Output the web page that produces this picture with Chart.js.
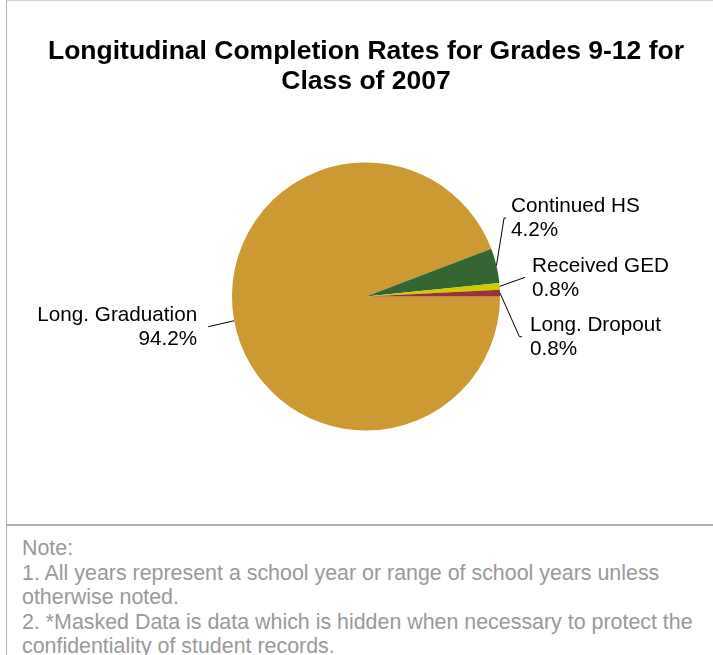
<!DOCTYPE html>
<html>
<head>
<meta charset="utf-8">
<script src="https://cdn.jsdelivr.net/npm/chart.js@4.4.0/dist/chart.umd.min.js"></script>
<style>
  html, body { margin: 0; padding: 0; background: #fff; }
  #wrap { position: absolute; left: 6px; top: 0; width: 707px; height: 655px;
          border-left: 1px solid #b4b4b4; border-top: 1px solid #d0d0d0; box-sizing: border-box; overflow: hidden; }
  #c { position: absolute; left: 6px; top: 0; }
  #sep { position: absolute; left: 0; top: 523px; width: 706px; height: 2px; background: #b0b0b0; }
  #notes { position: absolute; left: 15px; top: 535px; font-family: "Liberation Sans", Arial, sans-serif;
           font-size: 21.4px; line-height: 24.5px; color: #999; white-space: nowrap; }
</style>
</head>
<body>
<div id="wrap">
  <canvas id="c" width="706" height="523"></canvas>
  <div id="sep"></div>
  <div id="notes">
    <div>Note:</div>
    <div>1. All years represent a school year or range of school years unless</div>
    <div>otherwise noted.</div>
    <div>2. *Masked Data is data which is hidden when necessary to protect the</div>
    <div>confidentiality of student records.</div>
  </div>
</div>
<script>
const titleLines = ["Longitudinal Completion Rates for Grades 9-12 for", "Class of 2007"];
const categories = ["Long. Graduation", "Continued HS", "Received GED", "Long. Dropout"];
const percentValues = [94.2, 4.2, 0.8, 0.8];
const percentLabels = ["94.2%", "4.2%", "0.8%", "0.8%"];
const sliceColors = ["#CC9933", "#336633", "#CCCC00", "#993333"];

// leader-line layout relative to each slice's outer-edge midpoint (style only)
const labelLayout = [
  { dx: -26, dy: 6,   hook: 0, align: "right", gap: -11 },
  { dx: 7.6, dy: -47.5, hook: 2, align: "left", gap: 5 },
  { dx: 25.4, dy: -9, hook: 0, align: "left", gap: 7 },
  { dx: 19.4, dy: 43.6, hook: 2.5, align: "left", gap: 8 }
];

const labelPlugin = {
  id: "pieLabels",
  afterDraw(chart) {
    const ctx = chart.ctx;
    const meta = chart.getDatasetMeta(0);
    ctx.save();
    ctx.font = "20.7px 'Liberation Sans', Arial, sans-serif";
    ctx.fillStyle = "#000";
    ctx.strokeStyle = "#000";
    ctx.lineWidth = 1;
    ctx.textBaseline = "middle";
    meta.data.forEach((arc, i) => {
      const p = arc.getProps(["x", "y", "startAngle", "endAngle", "outerRadius"], true);
      const mid = (p.startAngle + p.endAngle) / 2;
      const ex = p.x + Math.cos(mid) * p.outerRadius;
      const ey = p.y + Math.sin(mid) * p.outerRadius;
      const L = labelLayout[i];
      const lx = ex + L.dx, ly = ey + L.dy;
      const hx = lx + (L.align === "left" ? L.hook : -L.hook);
      ctx.beginPath();
      ctx.moveTo(ex, ey);
      ctx.lineTo(lx, ly);
      if (L.hook) ctx.lineTo(hx, ly);
      ctx.stroke();
      ctx.textAlign = L.align;
      const tx = hx + L.gap;
      ctx.fillText(categories[i], tx, ly - 11.5);
      ctx.fillText(percentLabels[i], tx, ly + 12.5);
    });
    ctx.restore();
  }
};

new Chart(document.getElementById("c"), {
  type: "pie",
  data: {
    labels: categories,
    datasets: [{
      data: percentValues,
      backgroundColor: sliceColors,
      borderWidth: 0,
      offset: 0,
      hoverOffset: 0
    }]
  },
  options: {
    responsive: false,
    animation: false,
    rotation: 90,
    layout: { padding: { left: 0, right: 0, top: 0, bottom: 93.5 } },
    plugins: {
      legend: { display: false },
      tooltip: { enabled: false },
      title: {
        display: true,
        text: titleLines,
        color: "#000",
        font: { family: "'Liberation Sans', Arial, sans-serif", size: 26.5, weight: "bold", lineHeight: 1.13 },
        padding: { top: 35.5, bottom: 66 }
      }
    }
  },
  plugins: [labelPlugin]
});
</script>
</body>
</html>
